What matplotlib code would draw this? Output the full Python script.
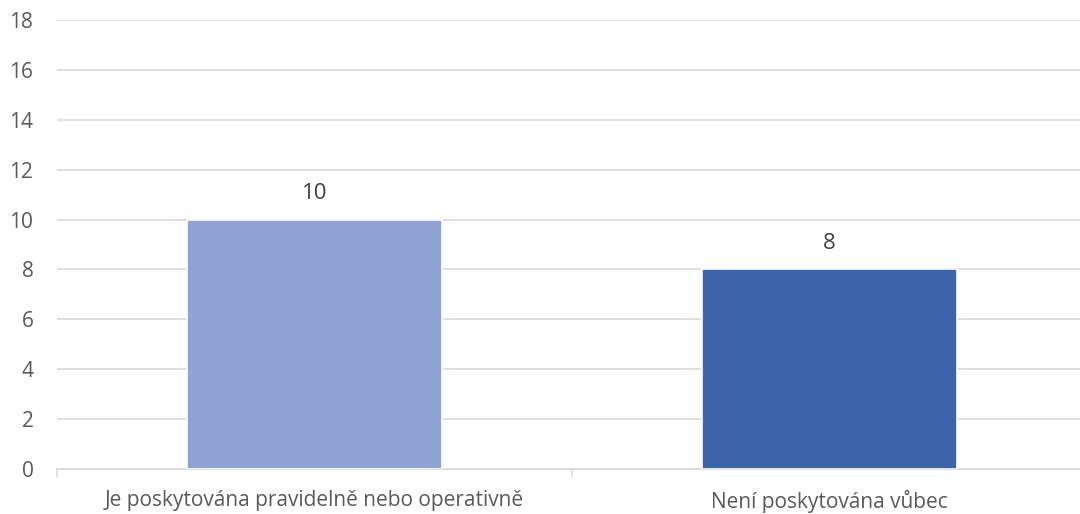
import matplotlib.pyplot as plt

plt.rcParams['font.family'] = ['Open Sans', 'DejaVu Sans']

categories = ["Je poskytována pravidelně nebo operativně", "Není poskytována vůbec"]
values = [10, 8]
colors = ["#8FA4D4", "#3C64AA"]

fig = plt.figure(figsize=(10.8, 5.14), dpi=100)
ax = fig.add_axes([57 / 1080, 1 - 469 / 514, 1030 / 1080, 449 / 514])

x = range(len(categories))
bars = ax.bar(x, values, width=0.494, color=colors, edgecolor="white", linewidth=1.2, zorder=3)
for b, v in zip(bars, values):
    ax.text(b.get_x() + b.get_width() / 2, v + 1.05, str(v), ha="center", va="center",
            fontsize=16, color="#404040")

ax.set_xlim(-0.5, 1.5)
ax.set_ylim(0, 18)
ax.set_yticks(range(0, 19, 2))
ax.yaxis.grid(True, color="#D9D9D9", linewidth=1.2, zorder=0)
for s in ["top", "right", "left"]:
    ax.spines[s].set_visible(False)
ax.spines["bottom"].set_color("#D9D9D9")
ax.spines["bottom"].set_linewidth(1.2)

# category boundary ticks on major, labels centred on minor
ax.set_xticks([-0.5, 0.5, 1.5], minor=False)
ax.set_xticklabels([])
ax.tick_params(axis="x", which="major", length=6, color="#D9D9D9", width=1.2)
ax.set_xticks(list(x), minor=True)
ax.set_xticklabels(categories, minor=True)
ax.tick_params(axis="x", which="minor", length=0, pad=15, labelsize=15, labelcolor="#595959")
ax.tick_params(axis="y", length=0, pad=17, labelsize=15, labelcolor="#595959")

fig.savefig("out.png", dpi=100)
